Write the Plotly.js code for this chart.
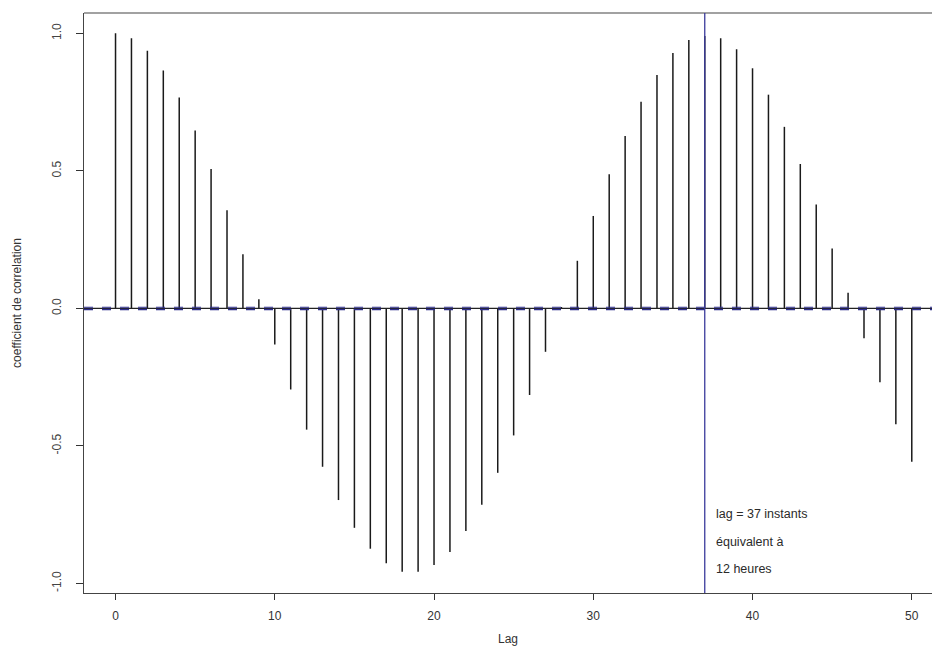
<!DOCTYPE html>
<html>
<head>
<meta charset="utf-8">
<script src="https://cdn.plot.ly/plotly-3.0.1.min.js"></script>
<style>html,body{margin:0;padding:0;background:#fff;}#chart{width:932px;height:646px;}</style>
</head>
<body>
<div id="chart"></div>
<script>
// Lags and autocorrelation values
const lags = [0,1,2,3,4,5,6,7,8,9,10,11,12,13,14,15,16,17,18,19,20,21,22,23,24,25,26,27,28,29,30,31,32,33,34,35,36,37,38,39,40,41,42,43,44,45,46,47,48,49,50];
const acfValues = [1.0,0.982,0.937,0.865,0.767,0.647,0.507,0.357,0.197,0.033,
  -0.131,-0.295,-0.441,-0.576,-0.697,-0.798,-0.874,-0.927,-0.958,-0.958,
  -0.933,-0.886,-0.810,-0.714,-0.598,-0.462,-0.315,-0.158,0.005,0.173,
  0.336,0.488,0.627,0.751,0.849,0.929,0.976,0.990,0.982,0.942,
  0.873,0.777,0.660,0.525,0.378,0.218,0.057,-0.109,-0.269,-0.421,-0.558];
const confBound = 0.004;
const markedLag = 37;
const noteLines = ["lag = 37 instants", "équivalent à", "12 heures"];
const noteY = [-0.748, -0.85, -0.948];
const xTicks = [0,10,20,30,40,50];
const yTicks = [-1.0,-0.5,0.0,0.5,1.0];
const yTickText = ["-1.0","-0.5","0.0","0.5","1.0"];

// Build stems (vertical segments) from the data
const sx = [], sy = [];
lags.forEach((l, i) => { sx.push(l, l, null); sy.push(0, acfValues[i], null); });

const traces = [{
  type: 'scatter', mode: 'lines', x: sx, y: sy,
  line: {color: '#1a1a1a', width: 1.5}, hoverinfo: 'skip', showlegend: false
}];

const layout = {
  width: 932, height: 646,
  margin: {l: 84, r: 0, t: 13, b: 53},
  paper_bgcolor: '#fff', plot_bgcolor: '#fff',
  font: {family: 'Liberation Sans, Arial, sans-serif', color: '#333'},
  showlegend: false,
  xaxis: {
    range: [-1.98, 51.27], tickmode: 'array', tickvals: xTicks,
    ticks: 'outside', ticklen: 6, tickcolor: '#333', tickwidth: 1,
    ticklabelstandoff: 5,
    showgrid: false, zeroline: false, showline: true, mirror: false,
    linecolor: '#444', linewidth: 1.2,
    tickfont: {size: 12, color: '#333'},
    title: {text: 'Lag', font: {size: 12, color: '#333'}, standoff: 18},
    automargin: false
  },
  yaxis: {
    range: [-1.035, 1.074], tickmode: 'array', tickvals: yTicks, ticktext: yTickText,
    ticks: 'outside', ticklen: 7, tickcolor: '#333', tickwidth: 1,
    tickangle: -90, ticklabelstandoff: 10,
    showgrid: false, zeroline: false, showline: true, mirror: false,
    linecolor: '#444', linewidth: 1.2,
    tickfont: {size: 12, color: '#444', family: 'Liberation Sans Narrow, Liberation Sans, Arial'},
    title: {text: 'coefficient de correlation', font: {size: 12, color: '#333', family: 'Liberation Sans Narrow, Liberation Sans, Arial'}, standoff: 25},
    automargin: false
  },
  shapes: [
    {type: 'line', xref: 'paper', x0: 0, x1: 1, yref: 'paper', y0: 1, y1: 1, line: {color: '#444', width: 1.2}},
    {type: 'line', xref: 'paper', x0: 0, x1: 1, yref: 'y', y0: 0, y1: 0, line: {color: '#222', width: 1.2}},
    {type: 'line', xref: 'paper', x0: 0, x1: 1, yref: 'y', y0: -confBound, y1: -confBound, line: {color: '#2e2e8c', width: 1.6, dash: 'dash'}},
    {type: 'line', xref: 'paper', x0: 0, x1: 1, yref: 'y', y0: confBound, y1: confBound, line: {color: '#2e2e8c', width: 1.0, dash: 'dash'}},
    {type: 'line', xref: 'x', x0: markedLag, x1: markedLag, yref: 'paper', y0: 0, y1: 1, line: {color: '#3b3b9c', width: 1.3}}
  ],
  annotations: noteLines.map((t, i) => ({
    x: markedLag + 0.55, y: noteY[i], xref: 'x', yref: 'y', text: t, showarrow: false,
    xanchor: 'left', yanchor: 'middle', font: {size: 12.5, color: '#2a2a2a'}
  }))
};

Plotly.newPlot('chart', traces, layout, {displayModeBar: false, staticPlot: true});
</script>
</body>
</html>
